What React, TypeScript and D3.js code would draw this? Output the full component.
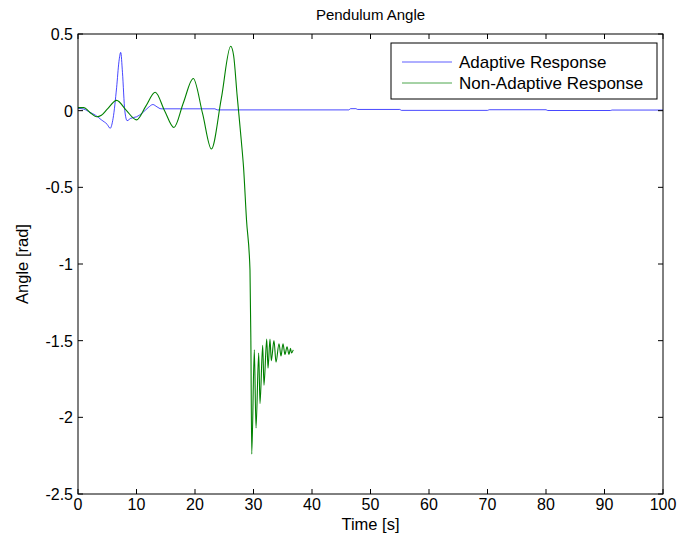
import React from "react";
import * as d3 from "d3";

const adaptiveT = [0, 1, 2, 3, 4, 5, 5.5, 6, 6.6, 7.0, 7.3, 7.6, 8.0, 8.4, 9, 10, 11, 12, 12.8, 13.5, 14.2, 23.4, 23.8, 46.3, 46.6, 47.5, 47.8, 55, 55.3, 70, 70.3, 80, 80.3, 91, 91.3, 100];
const adaptiveY = [0.015, 0.01, -0.01, -0.03, -0.06, -0.09, -0.115, -0.05, 0.15, 0.32, 0.38, 0.25, 0.0, -0.065, -0.05, -0.04, -0.015, 0.02, 0.04, 0.025, 0.012, 0.012, 0.005, 0.005, 0.013, 0.013, 0.008, 0.008, 0.002, 0.002, 0.006, 0.006, 0.001, 0.001, 0.004, 0.004];

const nonAdaptiveT = [0, 1, 2, 3.2, 4, 5, 6.6, 8.3, 10, 11.6, 13.2, 14.8, 16.4, 18, 19.7, 21.3, 22.8, 24.5, 26.1, 26.6, 27.2, 27.9, 28.3, 28.8, 29.4, 29.55, 29.7, 30.14, 30.43, 30.89, 31.11, 31.57, 31.79, 32.26, 32.48, 32.82, 33.04, 33.5, 33.85, 34.36, 34.7, 35.04, 35.38, 35.73, 36.07, 36.32, 36.5, 36.8];
const nonAdaptiveY = [0.02, 0.02, -0.01, -0.04, -0.03, 0.01, 0.067, 0.0, -0.06, 0.03, 0.12, 0.0, -0.11, 0.05, 0.21, -0.02, -0.25, 0.08, 0.42, 0.36, 0.1, -0.19, -0.37, -0.71, -1.04, -1.5, -2.24, -1.56, -2.07, -1.58, -1.91, -1.53, -1.79, -1.49, -1.68, -1.49, -1.63, -1.5, -1.64, -1.52, -1.6, -1.52, -1.59, -1.54, -1.59, -1.55, -1.58, -1.56];

const xTicks = [0, 10, 20, 30, 40, 50, 60, 70, 80, 90, 100];
const yTicks = [0.5, 0, -0.5, -1, -1.5, -2, -2.5];
const seriesNames = ["Adaptive Response", "Non-Adaptive Response"];
const seriesColors = ["#0000ff", "#008000"];

export default function App() {
  const left = 78, right = 663, top = 34, bottom = 494;
  const x = d3.scaleLinear().domain([0, 100]).range([left, right]);
  const y = d3.scaleLinear().domain([-2.5, 0.5]).range([bottom, top]);
  const line = d3
    .line<[number, number]>()
    .x((d) => x(d[0]))
    .y((d) => y(d[1]))
    .curve(d3.curveMonotoneX);
  const a: [number, number][] = adaptiveT.map((t, i) => [t, adaptiveY[i]]);
  const n: [number, number][] = nonAdaptiveT.map((t, i) => [t, nonAdaptiveY[i]]);
  const font = "'Liberation Sans', Arial, sans-serif";
  const tl = 5;
  return (
    <svg width={680} height={550} style={{ position: "absolute", left: 0, top: 0, background: "#fff" }} fontFamily={font}>
      <rect x={0} y={0} width={680} height={550} fill="#fff" />
      <path d={line(a) || ""} fill="none" stroke={seriesColors[0]} strokeWidth={0.9} strokeOpacity={0.8} />
      <path d={line(n) || ""} fill="none" stroke={seriesColors[1]} strokeWidth={1.1} />
      {xTicks.map((t) => (
        <g key={"x" + t}>
          <line x1={x(t)} x2={x(t)} y1={bottom} y2={bottom - tl} stroke="#000" />
          <line x1={x(t)} x2={x(t)} y1={top} y2={top + tl} stroke="#000" />
          <text x={x(t)} y={bottom + 16} fontSize={16} textAnchor="middle">{t}</text>
        </g>
      ))}
      {yTicks.map((t) => (
        <g key={"y" + t}>
          <line x1={left} x2={left + tl} y1={y(t)} y2={y(t)} stroke="#000" />
          <line x1={right} x2={right - tl} y1={y(t)} y2={y(t)} stroke="#000" />
          <text x={left - 5} y={y(t) + 6} fontSize={16} textAnchor="end">{t}</text>
        </g>
      ))}
      <rect x={left} y={top} width={right - left} height={bottom - top} fill="none" stroke="#000" strokeWidth={1} />
      <text x={(left + right) / 2} y={20} fontSize={15} textAnchor="middle">Pendulum Angle</text>
      <text x={(left + right) / 2} y={530} fontSize={16.5} textAnchor="middle">Time [s]</text>
      <text transform={`translate(28,${(top + bottom) / 2}) rotate(-90)`} fontSize={16.5} textAnchor="middle">Angle [rad]</text>
      <g>
        <rect x={391} y={43} width={266} height={56} fill="#fff" stroke="#000" strokeWidth={1} />
        {seriesNames.map((s, i) => (
          <g key={s}>
            <line x1={402} x2={452} y1={62 + i * 21} y2={62 + i * 21} stroke={seriesColors[i]} strokeWidth={i === 0 ? 0.8 : 1} strokeOpacity={i === 0 ? 0.8 : 0.7} />
            <text x={459} y={68 + i * 21} fontSize={17}>{s}</text>
          </g>
        ))}
      </g>
    </svg>
  );
}
